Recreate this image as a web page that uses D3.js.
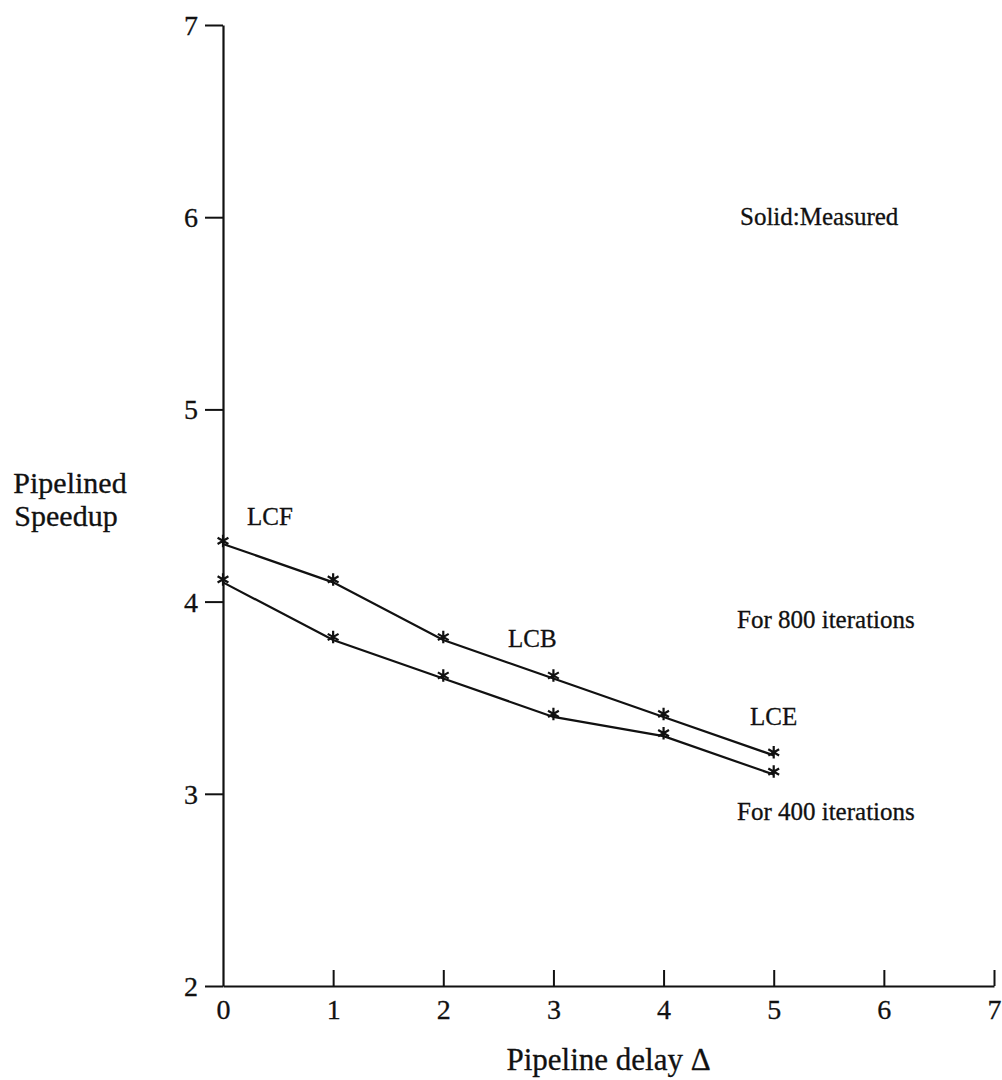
<!DOCTYPE html>
<html>
<head>
<meta charset="utf-8">
<script src="https://cdn.jsdelivr.net/npm/d3@7"></script>
<style>
  body { margin: 0; background: #fff; }
  text { font-family: "Liberation Serif", "DejaVu Serif", serif; fill: #111; stroke: #111; stroke-width: 0.3px; }
</style>
</head>
<body>
<div id="chart"></div>
<script>
// pipeline delay values
const delays = [0, 1, 2, 3, 4, 5];
// measured speedup
const speedup800 = [4.3, 4.1, 3.8, 3.6, 3.4, 3.2];
const speedup400 = [4.1, 3.8, 3.6, 3.4, 3.3, 3.1];
const xTicks = [0, 1, 2, 3, 4, 5, 6, 7];
const yTicks = [2, 3, 4, 5, 6, 7];

const width = 1002, height = 1080;

const x = d3.scaleLinear().domain([0, 7]).range([223, 994]);
const y = d3.scaleLinear().domain([2, 7]).range([986, 25]);

const svg = d3.select("#chart").append("svg")
    .attr("width", width)
    .attr("height", height);

// y axis, ticks on the left
const yAxis = svg.append("g")
    .attr("transform", `translate(${x(0)},0)`)
    .call(d3.axisLeft(y).tickValues(yTicks).tickFormat(d3.format("d"))
        .tickSizeInner(18).tickSizeOuter(0).tickPadding(7));

// x axis, ticks pointing up
const xAxis = svg.append("g")
    .attr("transform", `translate(0,${y(2)})`)
    .call(d3.axisBottom(x).tickValues(xTicks).tickFormat(d3.format("d"))
        .tickSizeInner(-16).tickSizeOuter(0).tickPadding(30));

[yAxis, xAxis].forEach(g => {
    g.select(".domain").attr("stroke", "#111").attr("stroke-width", 2.2);
    g.selectAll(".tick line").attr("stroke", "#111").attr("stroke-width", 2);
    g.selectAll(".tick text").attr("font-size", 28).attr("fill", "#111")
        .style("font-family", "Liberation Serif, serif");
});
xAxis.selectAll(".tick line").filter(d => d === 0).remove();
xAxis.selectAll(".tick text").attr("dy", "0.1em");
yAxis.selectAll(".tick text").attr("dy", "0.34em");

const line = d3.line()
    .x((d, i) => x(delays[i]))
    .y(d => y(d));

const star = d3.symbol().type(d3.symbolAsterisk).size(110);

[speedup800, speedup400].forEach(series => {
    svg.append("path")
        .datum(series)
        .attr("fill", "none")
        .attr("stroke", "#111")
        .attr("stroke-width", 2.2)
        .attr("d", line);

    svg.selectAll(null)
        .data(series)
        .join("path")
        .attr("transform", (d, i) => `translate(${x(delays[i])},${y(d) - 3})`)
        .attr("d", star)
        .attr("fill", "none")
        .attr("stroke", "#111")
        .attr("stroke-width", 2.2);
});

// annotations
const notes = [
    { t: "LCF", x: 247, y: 525 },
    { t: "LCB", x: 508, y: 647 },
    { t: "LCE", x: 750, y: 725 },
    { t: "For 800 iterations", x: 737, y: 628 },
    { t: "For 400 iterations", x: 737, y: 820 },
    { t: "Solid:Measured", x: 740, y: 225 }
];
svg.selectAll(".note")
    .data(notes)
    .join("text")
    .attr("class", "note")
    .attr("x", d => d.x)
    .attr("y", d => d.y)
    .attr("font-size", 25)
    .text(d => d.t);

// axis titles
svg.append("text")
    .attr("x", 70).attr("y", 493)
    .attr("text-anchor", "middle")
    .attr("font-size", 30)
    .text("Pipelined");
svg.append("text")
    .attr("x", 66).attr("y", 526)
    .attr("text-anchor", "middle")
    .attr("font-size", 30)
    .text("Speedup");
svg.append("text")
    .attr("x", (x(0) + x(7)) / 2).attr("y", 1070)
    .attr("text-anchor", "middle")
    .attr("font-size", 31)
    .text("Pipeline delay Δ");
</script>
</body>
</html>
